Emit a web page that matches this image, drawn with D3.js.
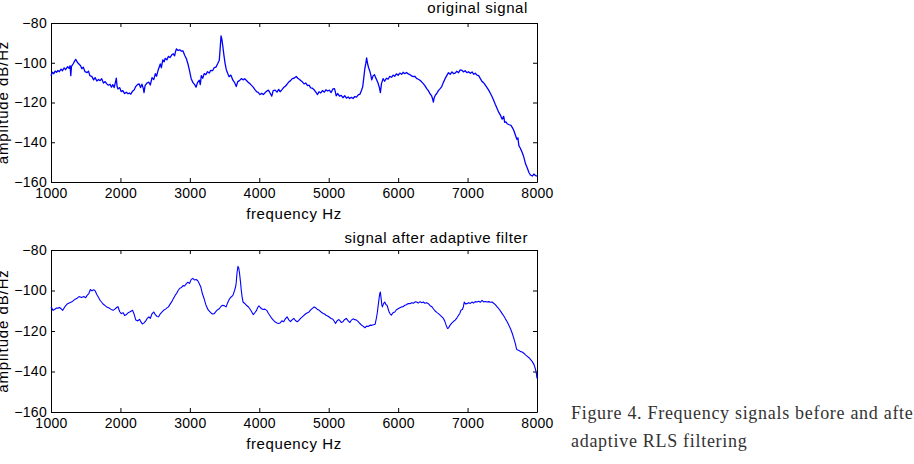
<!DOCTYPE html>
<html>
<head>
<meta charset="utf-8">
<script src="https://cdn.jsdelivr.net/npm/d3@7"></script>
<style>
  html, body { margin: 0; padding: 0; background: #fff; overflow: hidden; }
  svg { display: block; }
  .axis text { font-family: "Liberation Sans", Arial, sans-serif; font-size: 14px; fill: #000; letter-spacing: 0.3px; }
  .axis path, .axis line { stroke: #000; }
  .lbl { font-family: "Liberation Sans", Arial, sans-serif; font-size: 15px; fill: #000; letter-spacing: 0.6px; }
  .caption { font-family: "Liberation Serif", "DejaVu Serif", serif; font-size: 18px; fill: #333; letter-spacing: 0.7px; }
</style>
</head>
<body>
<div id="chart"></div>
<script>
// tick values shared by both panels
const freqTicks = [1000, 2000, 3000, 4000, 5000, 6000, 7000, 8000];
const ampTicks = [-80, -100, -120, -140, -160];

// original signal (Hz, dB/Hz)
const freqTop = [1000,1020,1040,1060,1080,1100,1120,1145,1165,1190,1210,1239,1260,1275,1285,1295,1320,1340,1356,1375,1395,1426,1445,1465,1490,1520,1540,1560,1590,1614,1635,1660,1685,1707,1730,1755,1780,1801,1825,1850,1871,1890,1910,1930,1941,1952,1965,1990,2010,2035,2060,2085,2110,2129,2150,2175,2199,2220,2245,2269,2290,2310,2330,2340,2355,2380,2410,2430,2455,2480,2503,2520,2545,2574,2590,2610,2630,2644,2670,2690,2714,2740,2761,2780,2795,2808,2830,2855,2878,2900,2925,2950,2972,2995,3019,3045,3070,3089,3110,3136,3150,3165,3185,3206,3230,3253,3280,3300,3327,3350,3376,3400,3424,3438,3449,3460,3473,3490,3507,3525,3546,3565,3590,3620,3645,3668,3690,3715,3741,3770,3790,3815,3840,3865,3888,3915,3940,3965,3985,4010,4035,4059,4085,4110,4132,4155,4180,4200,4229,4255,4280,4300,4327,4350,4375,4400,4424,4450,4475,4500,4532,4555,4580,4600,4620,4645,4670,4695,4717,4740,4765,4790,4815,4839,4860,4885,4910,4937,4960,4985,5010,5035,5060,5083,5095,5107,5130,5155,5180,5205,5230,5255,5280,5302,5325,5350,5375,5400,5425,5450,5473,5490,5507,5520,5535,5546,5560,5575,5590,5605,5620,5640,5660,5675,5690,5710,5730,5744,5760,5783,5805,5830,5855,5880,5905,5928,5950,5975,6000,6025,6050,6072,6095,6120,6145,6170,6195,6217,6240,6265,6290,6314,6338,6362,6385,6411,6435,6459,6480,6495,6507,6520,6538,6556,6580,6605,6628,6650,6676,6700,6725,6750,6775,6800,6821,6845,6870,6895,6918,6940,6965,6990,7014,7040,7065,7090,7111,7135,7160,7184,7210,7235,7256,7280,7304,7330,7355,7377,7400,7425,7450,7475,7498,7520,7535,7555,7570,7600,7625,7643,7665,7691,7710,7725,7739,7760,7787,7810,7836,7860,7884,7905,7932,7955,7981,8000];
const ampTop = [-106.5,-104.8,-105.5,-104.2,-104.8,-103.9,-104.5,-103.2,-104.0,-102.6,-103.5,-102.0,-102.8,-101.5,-106.5,-101.8,-100.5,-99.2,-98.3,-99.5,-100.4,-101.5,-103.0,-102.2,-104.5,-105.0,-104.2,-106.5,-107.0,-108.6,-107.5,-109.2,-108.4,-109.0,-108.0,-110.2,-109.5,-110.5,-111.3,-110.8,-112.3,-111.0,-112.5,-109.5,-107.8,-112.0,-113.2,-112.5,-114.5,-114.0,-115.5,-114.8,-115.6,-115.2,-115.8,-114.3,-113.6,-112.0,-111.0,-110.6,-112.5,-110.8,-113.0,-115.0,-111.5,-110.2,-109.8,-111.2,-107.5,-108.5,-105.5,-106.8,-103.5,-100.6,-102.5,-98.6,-99.5,-97.8,-98.5,-96.8,-97.4,-96.0,-95.5,-96.5,-94.2,-93.0,-93.8,-93.5,-94.2,-94.0,-96.2,-98.0,-100.5,-104.0,-108.0,-110.0,-111.0,-112.3,-110.0,-108.8,-111.0,-106.5,-107.8,-105.5,-106.0,-104.5,-105.2,-103.8,-104.0,-102.5,-102.2,-100.5,-98.7,-92.0,-86.5,-88.0,-91.2,-96.0,-100.3,-103.5,-105.4,-107.0,-106.2,-108.8,-110.0,-112.0,-109.5,-109.0,-108.0,-108.6,-108.0,-108.9,-109.8,-110.5,-111.4,-112.4,-113.6,-114.7,-114.9,-116.0,-115.4,-116.0,-115.0,-114.2,-113.8,-115.2,-116.8,-114.0,-113.8,-114.8,-113.4,-114.6,-113.5,-112.5,-111.8,-110.8,-109.7,-109.0,-108.0,-107.8,-106.9,-107.8,-108.4,-109.0,-109.6,-110.6,-110.2,-111.5,-111.3,-112.6,-112.8,-113.6,-114.8,-116.0,-114.6,-115.2,-114.0,-114.8,-113.6,-114.2,-113.8,-115.0,-113.2,-113.0,-114.5,-116.6,-115.5,-116.8,-116.4,-117.6,-116.6,-117.8,-117.2,-118.0,-117.4,-118.0,-117.0,-117.3,-116.2,-115.8,-113.8,-112.0,-107.0,-103.0,-100.2,-97.5,-100.5,-102.5,-104.0,-106.0,-108.6,-106.5,-106.0,-107.5,-108.5,-110.2,-112.5,-115.0,-110.5,-108.0,-109.3,-107.8,-108.2,-106.9,-107.3,-106.2,-106.8,-105.6,-106.3,-105.2,-105.8,-104.8,-105.5,-104.9,-105.6,-106.0,-106.6,-107.0,-106.8,-107.9,-108.3,-108.8,-109.6,-110.5,-111.5,-113.0,-114.0,-115.6,-116.5,-118.0,-119.8,-117.5,-116.2,-115.5,-114.0,-113.0,-112.0,-110.0,-108.0,-106.5,-105.0,-105.8,-104.6,-105.5,-105.2,-104.3,-105.0,-103.6,-103.8,-104.6,-104.0,-105.0,-104.5,-105.3,-104.6,-105.8,-105.3,-106.2,-106.5,-108.0,-109.5,-110.2,-111.3,-112.5,-113.8,-115.5,-117.2,-119.0,-121.0,-123.0,-125.0,-126.5,-128.4,-127.0,-130.0,-129.8,-130.7,-131.2,-131.5,-132.5,-134.0,-136.6,-138.5,-137.8,-141.7,-143.0,-145.2,-147.5,-151.0,-153.0,-155.2,-156.5,-157.0,-156.0,-156.8,-157.0];

// signal after adaptive filter
const freqBottom = [1000,1030,1052,1080,1100,1122,1145,1169,1200,1239,1270,1309,1340,1370,1403,1440,1473,1500,1520,1545,1567,1590,1615,1637,1660,1685,1707,1730,1755,1780,1801,1830,1860,1895,1920,1945,1965,1990,2012,2040,2060,2082,2110,2140,2176,2200,2222,2250,2275,2293,2315,2340,2365,2385,2410,2430,2455,2480,2500,2525,2550,2575,2600,2621,2650,2670,2691,2720,2740,2761,2790,2810,2831,2855,2880,2902,2925,2950,2972,2995,3020,3042,3065,3090,3112,3135,3159,3180,3206,3230,3262,3290,3320,3351,3380,3400,3424,3450,3473,3500,3522,3545,3571,3595,3620,3644,3660,3668,3680,3693,3705,3717,3730,3741,3752,3766,3790,3815,3840,3863,3890,3912,3935,3961,3975,3995,4015,4034,4055,4080,4107,4130,4155,4180,4205,4230,4255,4278,4300,4325,4351,4375,4400,4425,4449,4475,4498,4520,4546,4570,4595,4620,4645,4670,4695,4717,4740,4765,4790,4815,4840,4863,4890,4915,4940,4961,4985,5010,5034,5060,5080,5098,5120,5140,5156,5180,5205,5230,5254,5280,5305,5327,5350,5375,5400,5425,5449,5470,5495,5522,5545,5570,5595,5620,5645,5668,5686,5700,5710,5725,5735,5744,5755,5765,5773,5790,5807,5825,5841,5860,5870,5885,5903,5925,5952,5975,6000,6025,6048,6070,6097,6120,6145,6169,6195,6220,6245,6266,6290,6315,6340,6362,6385,6410,6435,6460,6485,6507,6530,6555,6580,6605,6630,6652,6670,6690,6710,6725,6749,6775,6800,6821,6845,6870,6885,6903,6925,6940,6952,6970,6990,7015,7040,7063,7085,7110,7135,7160,7185,7208,7230,7255,7280,7305,7330,7353,7375,7400,7425,7450,7475,7498,7520,7545,7570,7595,7620,7643,7665,7690,7705,7715,7740,7765,7787,7810,7835,7860,7885,7908,7930,7957,7975,7990,8000];
const ampBottom = [-108.1,-109.8,-109.4,-108.6,-108.8,-108.3,-109.0,-109.8,-108.0,-106.5,-106.0,-105.4,-104.5,-104.0,-103.0,-103.5,-103.0,-103.6,-102.4,-101.5,-99.5,-100.2,-99.6,-100.2,-102.0,-103.5,-104.8,-105.8,-106.8,-107.5,-108.1,-108.5,-109.2,-109.8,-109.2,-108.4,-108.0,-110.5,-111.4,-111.0,-112.4,-112.0,-111.0,-110.5,-109.8,-112.0,-114.6,-115.0,-114.2,-115.4,-116.5,-116.0,-115.0,-113.8,-113.0,-113.8,-111.5,-110.6,-111.8,-112.8,-113.0,-111.5,-110.6,-109.8,-109.2,-108.6,-108.1,-106.5,-105.5,-104.1,-102.3,-101.4,-100.0,-98.9,-98.5,-97.6,-97.8,-96.6,-95.9,-96.5,-94.5,-94.0,-94.8,-94.6,-95.1,-96.5,-98.4,-101.5,-104.1,-107.0,-109.5,-110.5,-111.6,-111.4,-110.2,-109.5,-109.0,-107.8,-107.3,-107.6,-108.1,-106.0,-104.1,-103.2,-102.4,-100.0,-98.0,-96.0,-91.0,-88.1,-89.0,-91.9,-96.0,-100.0,-103.0,-105.7,-106.4,-107.3,-108.0,-109.0,-110.5,-111.9,-111.0,-109.8,-108.5,-107.6,-108.4,-109.0,-109.4,-109.2,-109.8,-111.2,-112.5,-113.8,-114.8,-115.6,-116.0,-116.3,-116.0,-115.0,-115.4,-114.0,-113.0,-114.5,-115.4,-114.4,-113.8,-114.8,-115.4,-114.8,-113.8,-113.0,-112.2,-111.5,-111.0,-110.6,-109.6,-108.8,-108.1,-108.6,-109.4,-109.8,-110.6,-111.2,-111.6,-112.2,-112.6,-113.2,-113.8,-114.2,-115.2,-116.3,-115.0,-114.4,-114.6,-115.8,-115.4,-114.3,-113.8,-115.0,-115.8,-114.6,-114.0,-114.4,-114.6,-115.4,-116.3,-117.0,-117.6,-118.4,-117.6,-117.8,-117.1,-117.2,-116.9,-116.7,-113.8,-111.0,-108.1,-104.0,-101.5,-100.8,-104.0,-107.0,-108.1,-106.5,-105.7,-107.0,-107.3,-109.5,-110.6,-111.5,-112.2,-111.0,-110.6,-109.5,-109.0,-108.5,-108.1,-108.0,-107.3,-107.0,-106.4,-106.5,-106.0,-106.3,-105.6,-105.7,-106.2,-105.5,-106.0,-105.7,-106.3,-106.0,-106.5,-107.5,-108.0,-109.0,-110.0,-110.8,-111.4,-112.2,-113.0,-113.8,-115.0,-117.0,-118.7,-118.5,-117.1,-116.0,-115.2,-114.6,-113.6,-112.2,-111.6,-109.8,-109.4,-108.0,-105.7,-106.6,-106.5,-106.0,-106.4,-105.7,-106.2,-105.5,-105.7,-105.3,-105.8,-104.9,-105.6,-105.4,-105.7,-105.5,-105.8,-105.7,-106.3,-107.0,-108.1,-109.0,-110.2,-111.4,-112.5,-114.0,-115.4,-117.2,-119.0,-121.1,-123.5,-126.5,-128.8,-129.3,-129.6,-130.2,-130.4,-131.0,-131.8,-132.5,-133.2,-134.1,-135.0,-136.6,-138.5,-140.7,-143.4];

const W = 914, H = 464;
const svg = d3.select('#chart').append('svg').attr('width', W).attr('height', H);

const panels = [
  { freq: freqTop, amp: ampTop, title: 'original signal', top: 23, bottom: 182, titleY: 12.5, xlabY: 219, lw: 1.3 },
  { freq: freqBottom, amp: ampBottom, title: 'signal after adaptive filter', top: 250, bottom: 412, titleY: 242.5, xlabY: 449, lw: 1.1 }
];
const left = 51, right = 537;

panels.forEach(p => {
  const x = d3.scaleLinear().domain([1000, 8000]).range([left, right]);
  const y = d3.scaleLinear().domain([-160, -80]).range([p.bottom, p.top]);
  const g = svg.append('g');

  const tk = 4;
  g.append('g').attr('class', 'axis')
    .attr('transform', 'translate(0,' + p.bottom + ')')
    .call(d3.axisBottom(x).tickValues(freqTicks).tickFormat(d3.format('d')).tickSizeInner(-tk).tickSizeOuter(0).tickPadding(6));
  g.append('g').attr('class', 'axis')
    .attr('transform', 'translate(0,' + p.top + ')')
    .call(d3.axisTop(x).tickValues(freqTicks).tickFormat('').tickSizeInner(-tk).tickSizeOuter(0));
  g.append('g').attr('class', 'axis')
    .attr('transform', 'translate(' + left + ',0)')
    .call(d3.axisLeft(y).tickValues(ampTicks).tickSizeInner(-tk).tickSizeOuter(0).tickPadding(4));
  g.append('g').attr('class', 'axis')
    .attr('transform', 'translate(' + right + ',0)')
    .call(d3.axisRight(y).tickValues(ampTicks).tickFormat('').tickSizeInner(-tk).tickSizeOuter(0));

  const line = d3.line().x((d, i) => x(p.freq[i])).y(d => y(d));
  g.append('path').datum(p.amp)
    .attr('d', line)
    .attr('fill', 'none')
    .attr('stroke', '#0000ff')
    .attr('stroke-width', p.lw)
    .attr('stroke-linejoin', 'round');

  g.append('text').attr('class', 'lbl')
    .attr('x', 528).attr('y', p.titleY)
    .attr('text-anchor', 'end')
    .text(p.title);

  g.append('text').attr('class', 'lbl')
    .attr('x', 294).attr('y', p.xlabY)
    .attr('text-anchor', 'middle')
    .text('frequency Hz');

  // y label sits partly off the left edge, as in the source
  g.append('text').attr('class', 'lbl')
    .attr('transform', 'translate(8,' + ((p.top + p.bottom) / 2) + ') rotate(-90)')
    .attr('text-anchor', 'middle')
    .style('letter-spacing', '0.9px')
    .text('amplitude dB/Hz');
});

// figure caption, runs off the right edge like the source page
const cap = svg.append('text').attr('class', 'caption');
cap.append('tspan').attr('x', 571).attr('y', 419).text('Figure 4. Frequency signals before and after');
cap.append('tspan').attr('x', 571).attr('y', 447).text('adaptive RLS filtering');
</script>
</body>
</html>
